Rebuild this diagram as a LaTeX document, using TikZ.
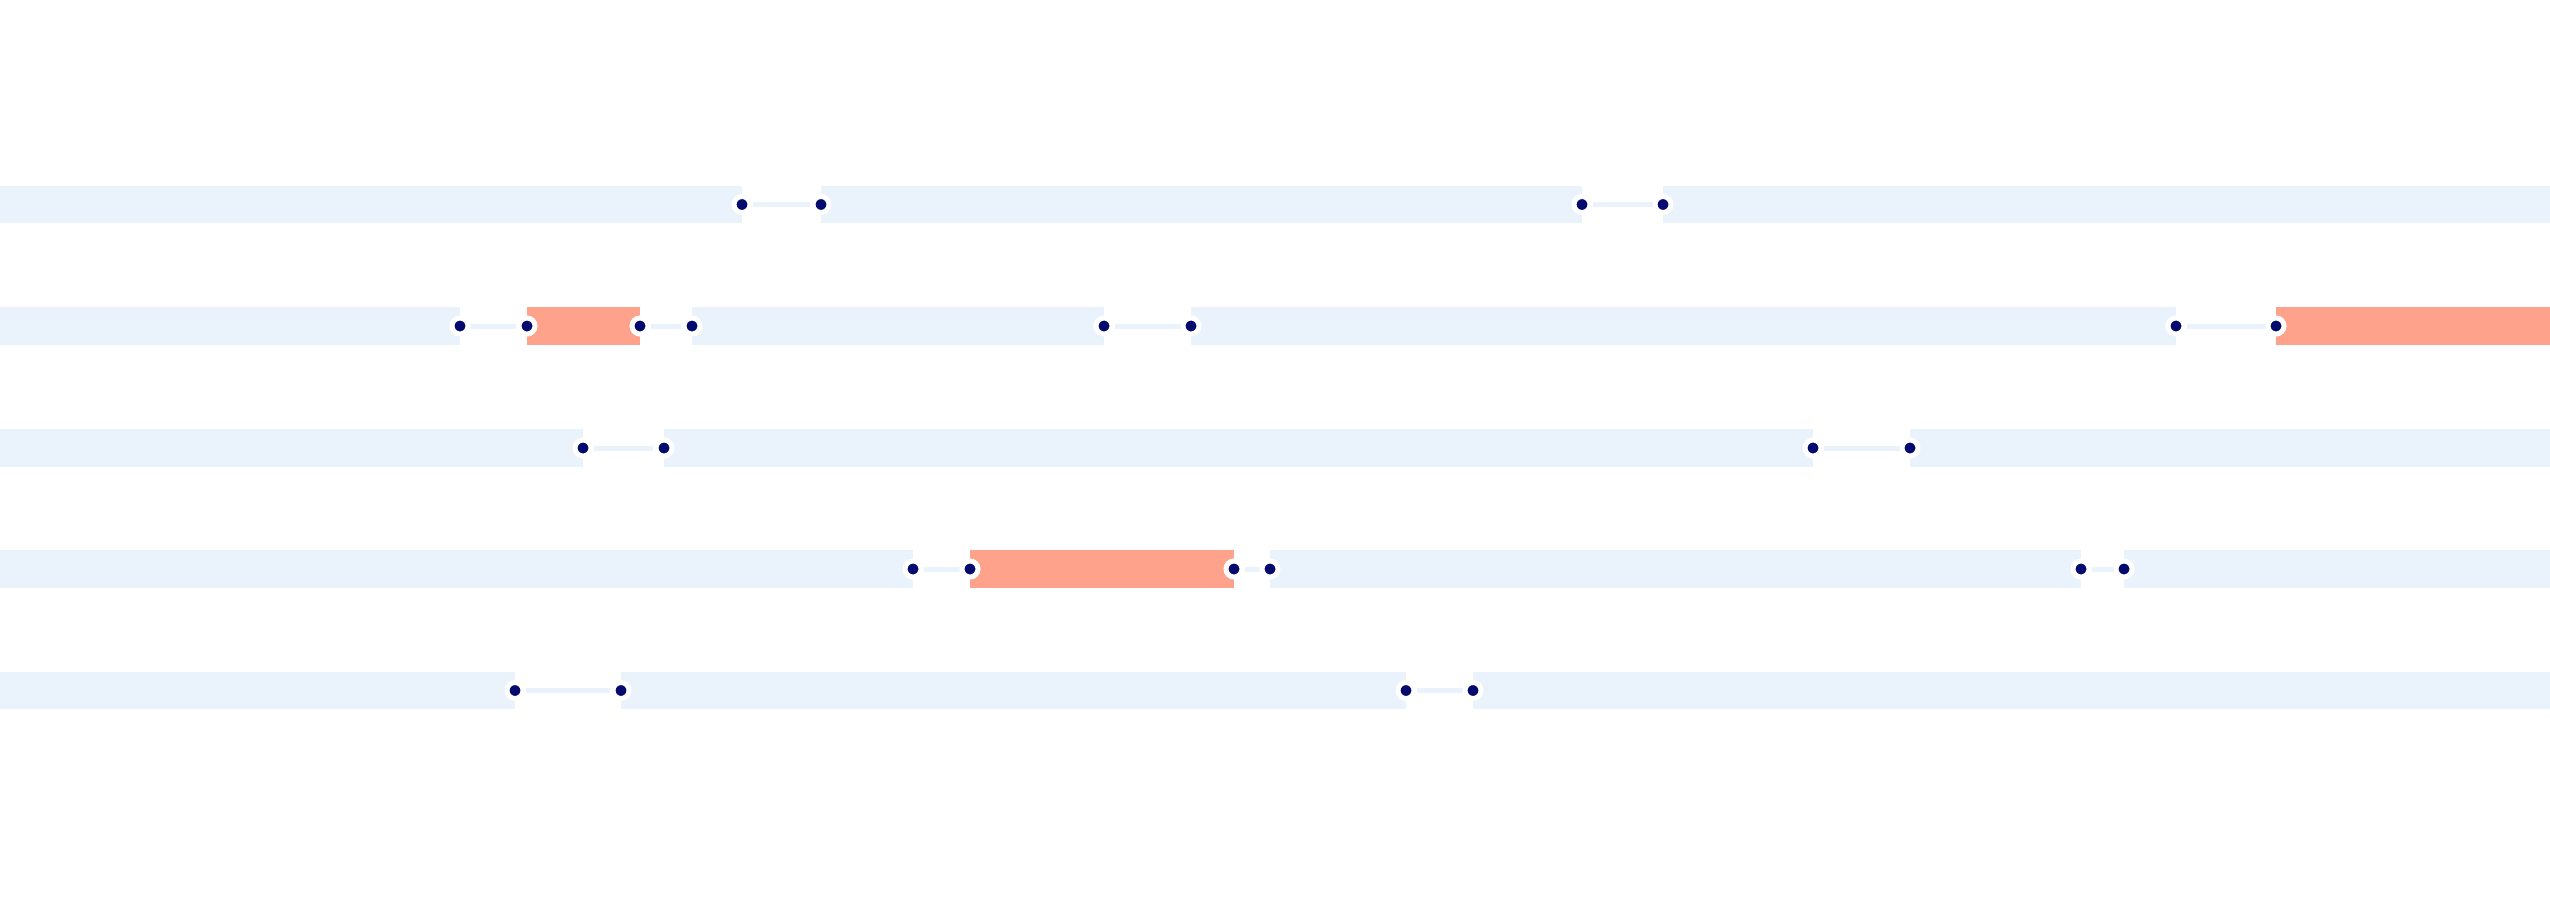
\documentclass[tikz,border=0pt]{standalone}
\usetikzlibrary{backgrounds}
\definecolor{barblue}{HTML}{EAF2FB}
\definecolor{gapred}{HTML}{FFA28C}
\definecolor{dotnavy}{HTML}{050A6E}
\begin{document}
\begin{tikzpicture}[x=0.01cm, y=-0.01cm,
  stopdot/.style={circle,fill=dotnavy,draw=white,line width=0.05cm,minimum size=0.16cm,inner sep=0pt},
  trackbar/.style={line width=0.37cm,barblue},
  delaybar/.style={line width=0.37cm,gapred},
  gaplink/.style={line width=0.05cm,barblue}]
\useasboundingbox (0,0) rectangle (2550,900);
\foreach \r/\y in {1/204.5,2/326,3/448,4/569,5/690.5}{
  \coordinate (w\r) at (0,\y);
  \coordinate (e\r) at (2550,\y);
}
\begin{scope}
\node[stopdot] (s11) at (742,204.5) {};
\node[stopdot] (s12) at (821,204.5) {};
\node[stopdot] (s13) at (1582,204.5) {};
\node[stopdot] (s14) at (1663,204.5) {};
\node[stopdot] (s21) at (460,326) {};
\node[stopdot] (s22) at (527,326) {};
\node[stopdot] (s23) at (640,326) {};
\node[stopdot] (s24) at (692,326) {};
\node[stopdot] (s25) at (1104,326) {};
\node[stopdot] (s26) at (1191,326) {};
\node[stopdot] (s27) at (2176,326) {};
\node[stopdot] (s28) at (2276,326) {};
\node[stopdot] (s31) at (583,448) {};
\node[stopdot] (s32) at (664,448) {};
\node[stopdot] (s33) at (1813,448) {};
\node[stopdot] (s34) at (1910,448) {};
\node[stopdot] (s41) at (913,569) {};
\node[stopdot] (s42) at (970,569) {};
\node[stopdot] (s43) at (1234,569) {};
\node[stopdot] (s44) at (1270,569) {};
\node[stopdot] (s45) at (2081,569) {};
\node[stopdot] (s46) at (2124,569) {};
\node[stopdot] (s51) at (515,690.5) {};
\node[stopdot] (s52) at (621,690.5) {};
\node[stopdot] (s53) at (1406,690.5) {};
\node[stopdot] (s54) at (1473,690.5) {};
\end{scope}
\begin{scope}[on background layer]
% row 1
\draw[trackbar] (w1) -- (s11.center);
\draw[trackbar] (s12.center) -- (s13.center);
\draw[trackbar] (s14.center) -- (e1);
\draw[gaplink] (s11) -- (s12);
\draw[gaplink] (s13) -- (s14);
% row 2
\draw[trackbar] (w2) -- (s21.center);
\draw[delaybar] (s22.center) -- (s23.center);
\draw[trackbar] (s24.center) -- (s25.center);
\draw[trackbar] (s26.center) -- (s27.center);
\draw[delaybar] (s28.center) -- (e2);
\draw[gaplink] (s21) -- (s22);
\draw[gaplink] (s23) -- (s24);
\draw[gaplink] (s25) -- (s26);
\draw[gaplink] (s27) -- (s28);
% row 3
\draw[trackbar] (w3) -- (s31.center);
\draw[trackbar] (s32.center) -- (s33.center);
\draw[trackbar] (s34.center) -- (e3);
\draw[gaplink] (s31) -- (s32);
\draw[gaplink] (s33) -- (s34);
% row 4
\draw[trackbar] (w4) -- (s41.center);
\draw[delaybar] (s42.center) -- (s43.center);
\draw[trackbar] (s44.center) -- (s45.center);
\draw[trackbar] (s46.center) -- (e4);
\draw[gaplink] (s41) -- (s42);
\draw[gaplink] (s43) -- (s44);
\draw[gaplink] (s45) -- (s46);
% row 5
\draw[trackbar] (w5) -- (s51.center);
\draw[trackbar] (s52.center) -- (s53.center);
\draw[trackbar] (s54.center) -- (e5);
\draw[gaplink] (s51) -- (s52);
\draw[gaplink] (s53) -- (s54);
\end{scope}
\end{tikzpicture}
\end{document}
